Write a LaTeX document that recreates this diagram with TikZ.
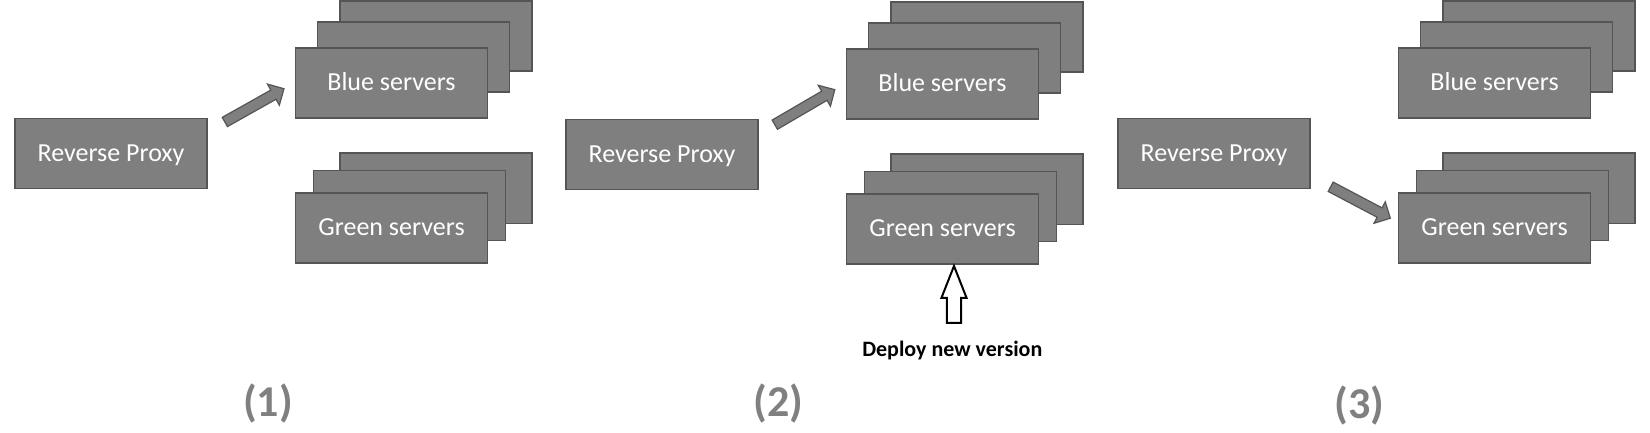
\documentclass[tikz,border=0pt]{standalone}
\usepackage{fontspec}
\setmainfont{Carlito}
\usetikzlibrary{shapes.arrows,calc}
\definecolor{boxgray}{RGB}{127,127,127}
\definecolor{boxedge}{RGB}{85,85,85}
\definecolor{labelgray}{RGB}{128,128,128}
\tikzset{
  srvbox/.style={rectangle, minimum width=192pt, minimum height=70pt, inner sep=0pt,
    fill=boxgray, draw=boxedge, line width=1.6pt, text=white,
    text height=16.5pt, text depth=0.5pt,
    font=\fontsize{26}{30}\selectfont},
  blockarr/.style={single arrow, single arrow head extend=6.8pt, minimum width=0pt,
    inner xsep=0pt, inner ysep=4.7pt, fill=boxgray, draw=boxedge, line width=1.2pt},
  hollowarr/.style={single arrow, single arrow head extend=5.5pt, minimum width=0pt,
    single arrow tip angle=43, inner xsep=0pt, inner ysep=6.1pt,
    fill=white, draw=black, line width=2pt},
  steplabel/.style={font=\bfseries\fontsize{44}{50}\selectfont, text=labelgray, inner sep=0pt},
  deploylabel/.style={font=\bfseries\fontsize{22}{26}\selectfont, text=black, inner sep=0pt}
}
\newcommand\arrowbetween[4]{%
  \path let \p1=($(#4)-(#3)$), \n1={atan2(\y1,\x1)}, \n2={veclen(\x1,\y1)} in
    node[#1, rotate=\n1, minimum height=\n2] (#2) at ($(#3)!0.5!(#4)$) {};}
\begin{document}
\begin{tikzpicture}[x=1pt,y=-1pt]
\fill[white] (0,0) rectangle (1650,433);
\useasboundingbox (0,0) rectangle (1650,433);

% ---------- Panel 1 ----------
\node[srvbox] (rp1) at (111,153.5) {Reverse Proxy};
\node[srvbox] (b1c) at (435.8,36.3) {};
\node[srvbox] (b1b) at (413.3,57.2) {};
\node[srvbox] (b1) at (391.5,83) {Blue servers};
\node[srvbox] (g1c) at (435.8,188.3) {};
\node[srvbox] (g1b) at (409.5,205.5) {};
\node[srvbox] (g1) at (391.5,227.8) {Green servers};
\coordinate (a1s) at (222.5,123.3);
\coordinate (a1e) at (281.7,90);
\arrowbetween{blockarr}{a1}{a1s}{a1e}
\node[steplabel] (n1) at (268,403) {(1)};

% ---------- Panel 2 ----------
\begin{scope}[shift={(551,1)}]
\node[srvbox] (rp2) at (111,153.5) {Reverse Proxy};
\node[srvbox] (b2c) at (435.8,36.3) {};
\node[srvbox] (b2b) at (413.3,57.2) {};
\node[srvbox] (b2) at (391.5,83) {Blue servers};
\node[srvbox] (g2c) at (435.8,188.3) {};
\node[srvbox] (g2b) at (409.5,205.5) {};
\node[srvbox] (g2) at (391.5,227.8) {Green servers};
\coordinate (a2s) at (221.5,125);
\coordinate (a2e) at (281.5,90);
\arrowbetween{blockarr}{a2}{a2s}{a2e}
\coordinate (d2s) at (403,331);
\coordinate (d2e) at (403,274);
\arrowbetween{hollowarr}{d2}{d2s}{d2e}
\node[deploylabel] (dl2) at (401.3,349.4) {Deploy new version};
\node[steplabel] (n2) at (227.7,402) {(2)};
\end{scope}

% ---------- Panel 3 ----------
\begin{scope}[shift={(1103,0)}]
\node[srvbox] (rp3) at (111,153.5) {Reverse Proxy};
\node[srvbox] (b3c) at (435.8,36.3) {};
\node[srvbox] (b3b) at (413.3,57.2) {};
\node[srvbox] (b3) at (391.5,83) {Blue servers};
\node[srvbox] (g3c) at (435.8,188.3) {};
\node[srvbox] (g3b) at (409.5,205.5) {};
\node[srvbox] (g3) at (391.5,227.8) {Green servers};
\coordinate (a3s) at (225.3,185.5);
\coordinate (a3e) at (285,217);
\arrowbetween{blockarr}{a3}{a3s}{a3e}
\node[steplabel] (n3) at (256.6,405) {(3)};
\end{scope}
\end{tikzpicture}
\end{document}
